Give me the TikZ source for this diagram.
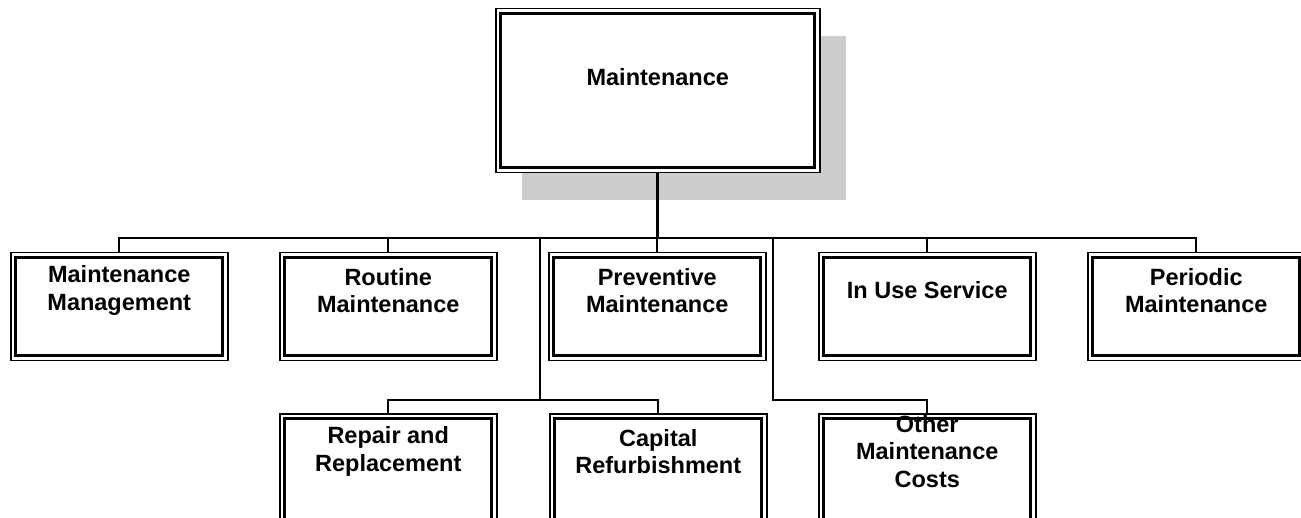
\documentclass[tikz,border=0pt]{standalone}
\usepackage{fontspec}
\setmainfont{Liberation Sans}
\usetikzlibrary{shadows}
\definecolor{shadowgray}{gray}{0.8}
\begin{document}
\begin{tikzpicture}[x=1pt,y=-1pt,
  framed/.style={draw, line width=1.5pt, fill=white, inner sep=0pt, anchor=north west,
    path picture={\draw[line width=2.6pt]
      ([xshift=5pt,yshift=-5pt]path picture bounding box.north west) rectangle
      ([xshift=-5pt,yshift=5pt]path picture bounding box.south east);}},
  unit/.style={framed, minimum width=217pt, minimum height=108pt,
    label={[anchor=center, align=center, yshift=-38.5pt, font=\bfseries\fontsize{23.5}{27.5}\selectfont]north:#1}},
  lowunit/.style={unit={#1}, minimum height=116pt},
  link/.style={line width=2pt},
  stem/.style={line width=3pt}
]
\clip (0,0) rectangle (1301,518);

% top box with its grey offset shadow
\node[framed, minimum width=324pt, minimum height=164pt,
  drop shadow={shadow xshift=26pt, shadow yshift=-27pt, fill=shadowgray, opacity=1},
  label={[anchor=center, yshift=-69pt, font=\bfseries\fontsize{23.5}{27.5}\selectfont]north:Maintenance}]
  (top) at (495,8) {};

% first row
\node[unit={Maintenance\\Management}] (mm)  at (10,252)   {};
\node[unit={Routine\\Maintenance}]    (rm)  at (279,252)  {};
\node[unit={Preventive\\Maintenance}] (pm)  at (548,252)  {};
\node[unit={In Use Service}]          (ius) at (818,252)  {};
\node[unit={Periodic\\Maintenance}]   (per) at (1087,252) {};

% second row, running past the lower edge
\node[lowunit={Repair and\\Replacement}]     (rr)  at (279,413) {};
\node[lowunit={Capital\\Refurbishment}]      (cr)  at (549,413) {};
\node[lowunit={Other\\Maintenance\\Costs}]   (omc) at (818,413) {};

% bus coordinates
\coordinate (bus) at (656,238);
\coordinate (ja) at (540,238);
\coordinate (jb) at (773,238);
\coordinate (ka) at (540,400);
\coordinate (kb) at (773,400);

% connectors
\draw[stem] (top.south) -- (top.south |- bus);
\draw[link] (mm.north) |- (bus) -| (per.north);
\draw[link] (rm.north) -- (rm.north |- bus);
\draw[link] (pm.north) -- (pm.north |- bus);
\draw[link] (ius.north) -- (ius.north |- bus);
\draw[link] (ja) -- (ka);
\draw[link] (rr.north) |- (ka) -| (cr.north);
\draw[link] (jb) -- (kb) -| (omc.north);
\end{tikzpicture}
\end{document}
